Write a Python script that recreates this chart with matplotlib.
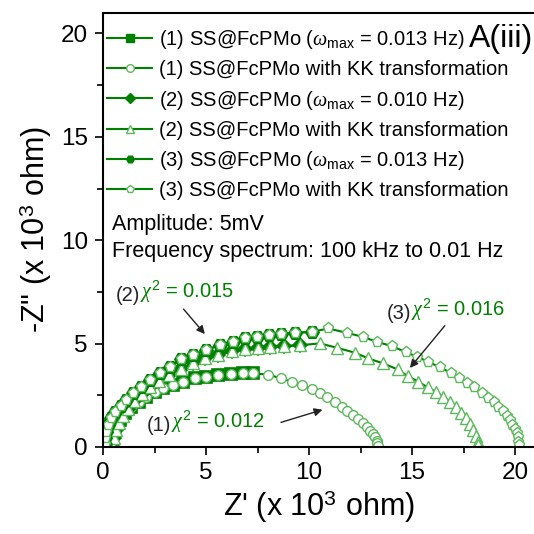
import numpy as np
import matplotlib.pyplot as plt
from matplotlib.lines import Line2D

plt.rcParams['font.family'] = ['Liberation Sans', 'DejaVu Sans']
plt.rcParams['mathtext.fontset'] = 'custom'
plt.rcParams['mathtext.rm'] = 'Liberation Sans'
plt.rcParams['mathtext.it'] = 'Liberation Serif:italic'

# (1) SS@FcPMo measured (squares) -- Z' and -Z'' in 10^3 ohm
s1_x = [0.32, 0.44, 0.60, 0.81, 1.08, 1.38, 1.73, 2.10, 2.51, 2.91, 3.40, 3.88,
        4.45, 5.02, 5.58, 6.23, 6.80, 7.30]
s1_y = [0.18, 0.58, 0.98, 1.30, 1.63, 1.92, 2.19, 2.43, 2.67, 2.83, 3.00, 3.16,
        3.32, 3.40, 3.48, 3.53, 3.56, 3.56]
# (1) KK transformation, low-frequency tail
k1_x = [8.03, 8.62, 9.16, 9.65, 10.13, 10.53, 10.89, 11.26, 11.59, 11.86, 12.15,
        12.39, 12.60, 12.80, 12.96, 13.09, 13.20, 13.28, 13.32, 13.33]
k1_y = [3.50, 3.32, 3.16, 3.00, 2.80, 2.59, 2.40, 2.19, 1.95, 1.74, 1.55,
        1.34, 1.14, 0.95, 0.79, 0.63, 0.47, 0.30, 0.18, 0.06]

# (2) SS@FcPMo measured (diamonds)
s2_x = [0.45, 0.52, 0.62, 0.77, 0.97, 1.22, 1.52, 1.87, 2.27, 2.72, 3.22, 3.77,
        4.37, 4.97, 5.60, 6.25, 6.88, 7.50, 8.10, 8.80, 9.55]
s2_y = [0.10, 0.45, 0.80, 1.15, 1.50, 1.85, 2.20, 2.55, 2.88, 3.20, 3.50, 3.78,
        4.04, 4.28, 4.47, 4.62, 4.74, 4.80, 4.85, 4.88, 4.92]
k2_x = [10.53, 11.34, 12.23, 12.88, 13.61, 14.30, 14.79, 15.31, 15.76, 16.15,
        16.52, 16.84, 17.14, 17.38, 17.62, 17.82, 17.98, 18.09, 18.19, 18.22]
k2_y = [5.01, 4.80, 4.56, 4.28, 4.04, 3.75, 3.43, 3.16, 2.88, 2.67,
        2.43, 2.19, 1.92, 1.66, 1.39, 1.10, 0.82, 0.53, 0.26, 0.10]

# (3) SS@FcPMo measured (hexagons)
s3_x = [0.08, 0.10, 0.15, 0.26, 0.40, 0.60, 0.86, 1.13, 1.46, 1.83, 2.27, 2.75,
        3.24, 3.80, 4.37, 5.02, 5.66, 6.31, 6.88, 7.45, 8.05, 8.65, 9.32, 10.13]
s3_y = [0.14, 0.42, 0.74, 1.06, 1.39, 1.71, 1.98, 2.27, 2.59, 2.91, 3.24, 3.56,
        3.88, 4.24, 4.44, 4.69, 4.93, 5.09, 5.25, 5.33, 5.40, 5.46, 5.52, 5.57]
k3_x = [10.94, 11.83, 12.60, 13.28, 14.01, 14.69, 15.25, 15.79, 16.36, 16.88,
        17.28, 17.65, 18.03, 18.38, 18.70, 18.97, 19.19, 19.40, 19.60, 19.75,
        19.87, 19.98, 20.08, 20.13, 20.16, 20.18]
k3_y = [5.73, 5.52, 5.33, 5.09, 4.88, 4.59, 4.36, 4.12, 3.85, 3.59,
        3.35, 3.11, 2.88, 2.59, 2.38, 2.17, 1.95, 1.72, 1.50, 1.28,
        1.06, 0.86, 0.66, 0.46, 0.26, 0.10]

labels = [r"(1) SS@FcPMo ($\omega_{\rm max}$ = 0.013 Hz)",
          "(1) SS@FcPMo with KK transformation",
          r"(2) SS@FcPMo ($\omega_{\rm max}$ = 0.010 Hz)",
          "(2) SS@FcPMo with KK transformation",
          r"(3) SS@FcPMo ($\omega_{\rm max}$ = 0.013 Hz)",
          "(3) SS@FcPMo with KK transformation"]

dark = '#008000'
light = '#5cb85c'

fig = plt.figure(figsize=(5.34, 5.34), dpi=100)
ax = fig.add_axes([0.193, 0.163, 0.81, 0.813])

series = [(s1_x, s1_y, k1_x, k1_y, 's', 'o', 8.5, 7.0),
          (s2_x, s2_y, k2_x, k2_y, 'D', '^', 7.5, 8.0),
          (s3_x, s3_y, k3_x, k3_y, 'H', 'p', 9.5, 8.0)]

handles = []
for sx, sy, kx, ky, m1, m2, ms1, ms2 in series:
    # KK curve covers the measured part too, drawn on top with white faces
    kk_x = sx + kx
    kk_y = sy + ky
    ax.plot(sx, sy, color=dark, lw=1.5, marker=m1, ms=ms1, mfc=dark, mec=dark, mew=1.2)
    ax.plot(kk_x, kk_y, color=dark, lw=1.5, marker=m2, ms=ms2, mfc='white', mec=light, mew=1.0)
    handles.append(Line2D([], [], color=dark, lw=1.5, marker=m1, ms=5.5, mfc=dark, mec=dark))
    handles.append(Line2D([], [], color=dark, lw=1.5, marker=m2, ms=5.5, mfc='white', mec=light))

ax.set_xlim(0, 21)
ax.set_ylim(0, 21)
ax.set_xticks([0, 5, 10, 15, 20])
ax.set_yticks([0, 5, 10, 15, 20])
ax.set_xticks(np.arange(2.5, 21, 5), minor=True)
ax.set_yticks(np.arange(2.5, 21, 5), minor=True)
ax.tick_params(which='major', direction='out', length=6, width=1.2, labelsize=17.5,
               pad=5, top=False, right=False)
ax.tick_params(which='minor', direction='out', length=4, width=1.2, top=False, right=False)
for sp in ax.spines.values():
    sp.set_linewidth(1.5)

ax.set_xlabel("Z' (x 10$^3$ ohm)", fontsize=22, labelpad=3)
ax.set_ylabel('-Z" (x 10$^3$ ohm)', fontsize=22, labelpad=5)

leg = ax.legend(handles, labels, loc='upper left', bbox_to_anchor=(0.01, 0.965),
                frameon=False, fontsize=14.5, handlelength=2.2, handletextpad=0.35,
                labelspacing=0.46, borderpad=0, borderaxespad=0, numpoints=1)

ax.text(0.995, 0.94, 'A(iii)', transform=ax.transAxes, fontsize=23, ha='right', va='center')
ax.text(0.45, 10.75, 'Amplitude: 5mV', fontsize=15.5, va='center')
ax.text(0.45, 9.45, 'Frequency spectrum: 100 kHz to 0.01 Hz', fontsize=15.5, va='center')

# chi-square annotations: black index, green value
notes = [('(2)', r'$\chi^2$ = 0.015', (0.6, 7.34), (3.82, 6.77), (5.03, 5.36)),
         ('(3)', r'$\chi^2$ = 0.016', (13.77, 6.46), (16.68, 5.97), (14.81, 3.72)),
         ('(1)', r'$\chi^2$ = 0.012', (2.12, 1.06), (8.51, 1.15), (10.78, 1.84))]
for idx, val, pos, a0, a1 in notes:
    t = ax.text(pos[0], pos[1], idx, fontsize=14.5, color='#222222', va='center')
    ax.annotate(val, xy=(1, 0), xycoords=t, fontsize=14.5, color=dark, va='bottom')
    ax.annotate('', xy=a1, xytext=a0,
                arrowprops=dict(arrowstyle='-|>', color='#222222', lw=1.0, mutation_scale=12))

fig.savefig('out.png', dpi=100)
